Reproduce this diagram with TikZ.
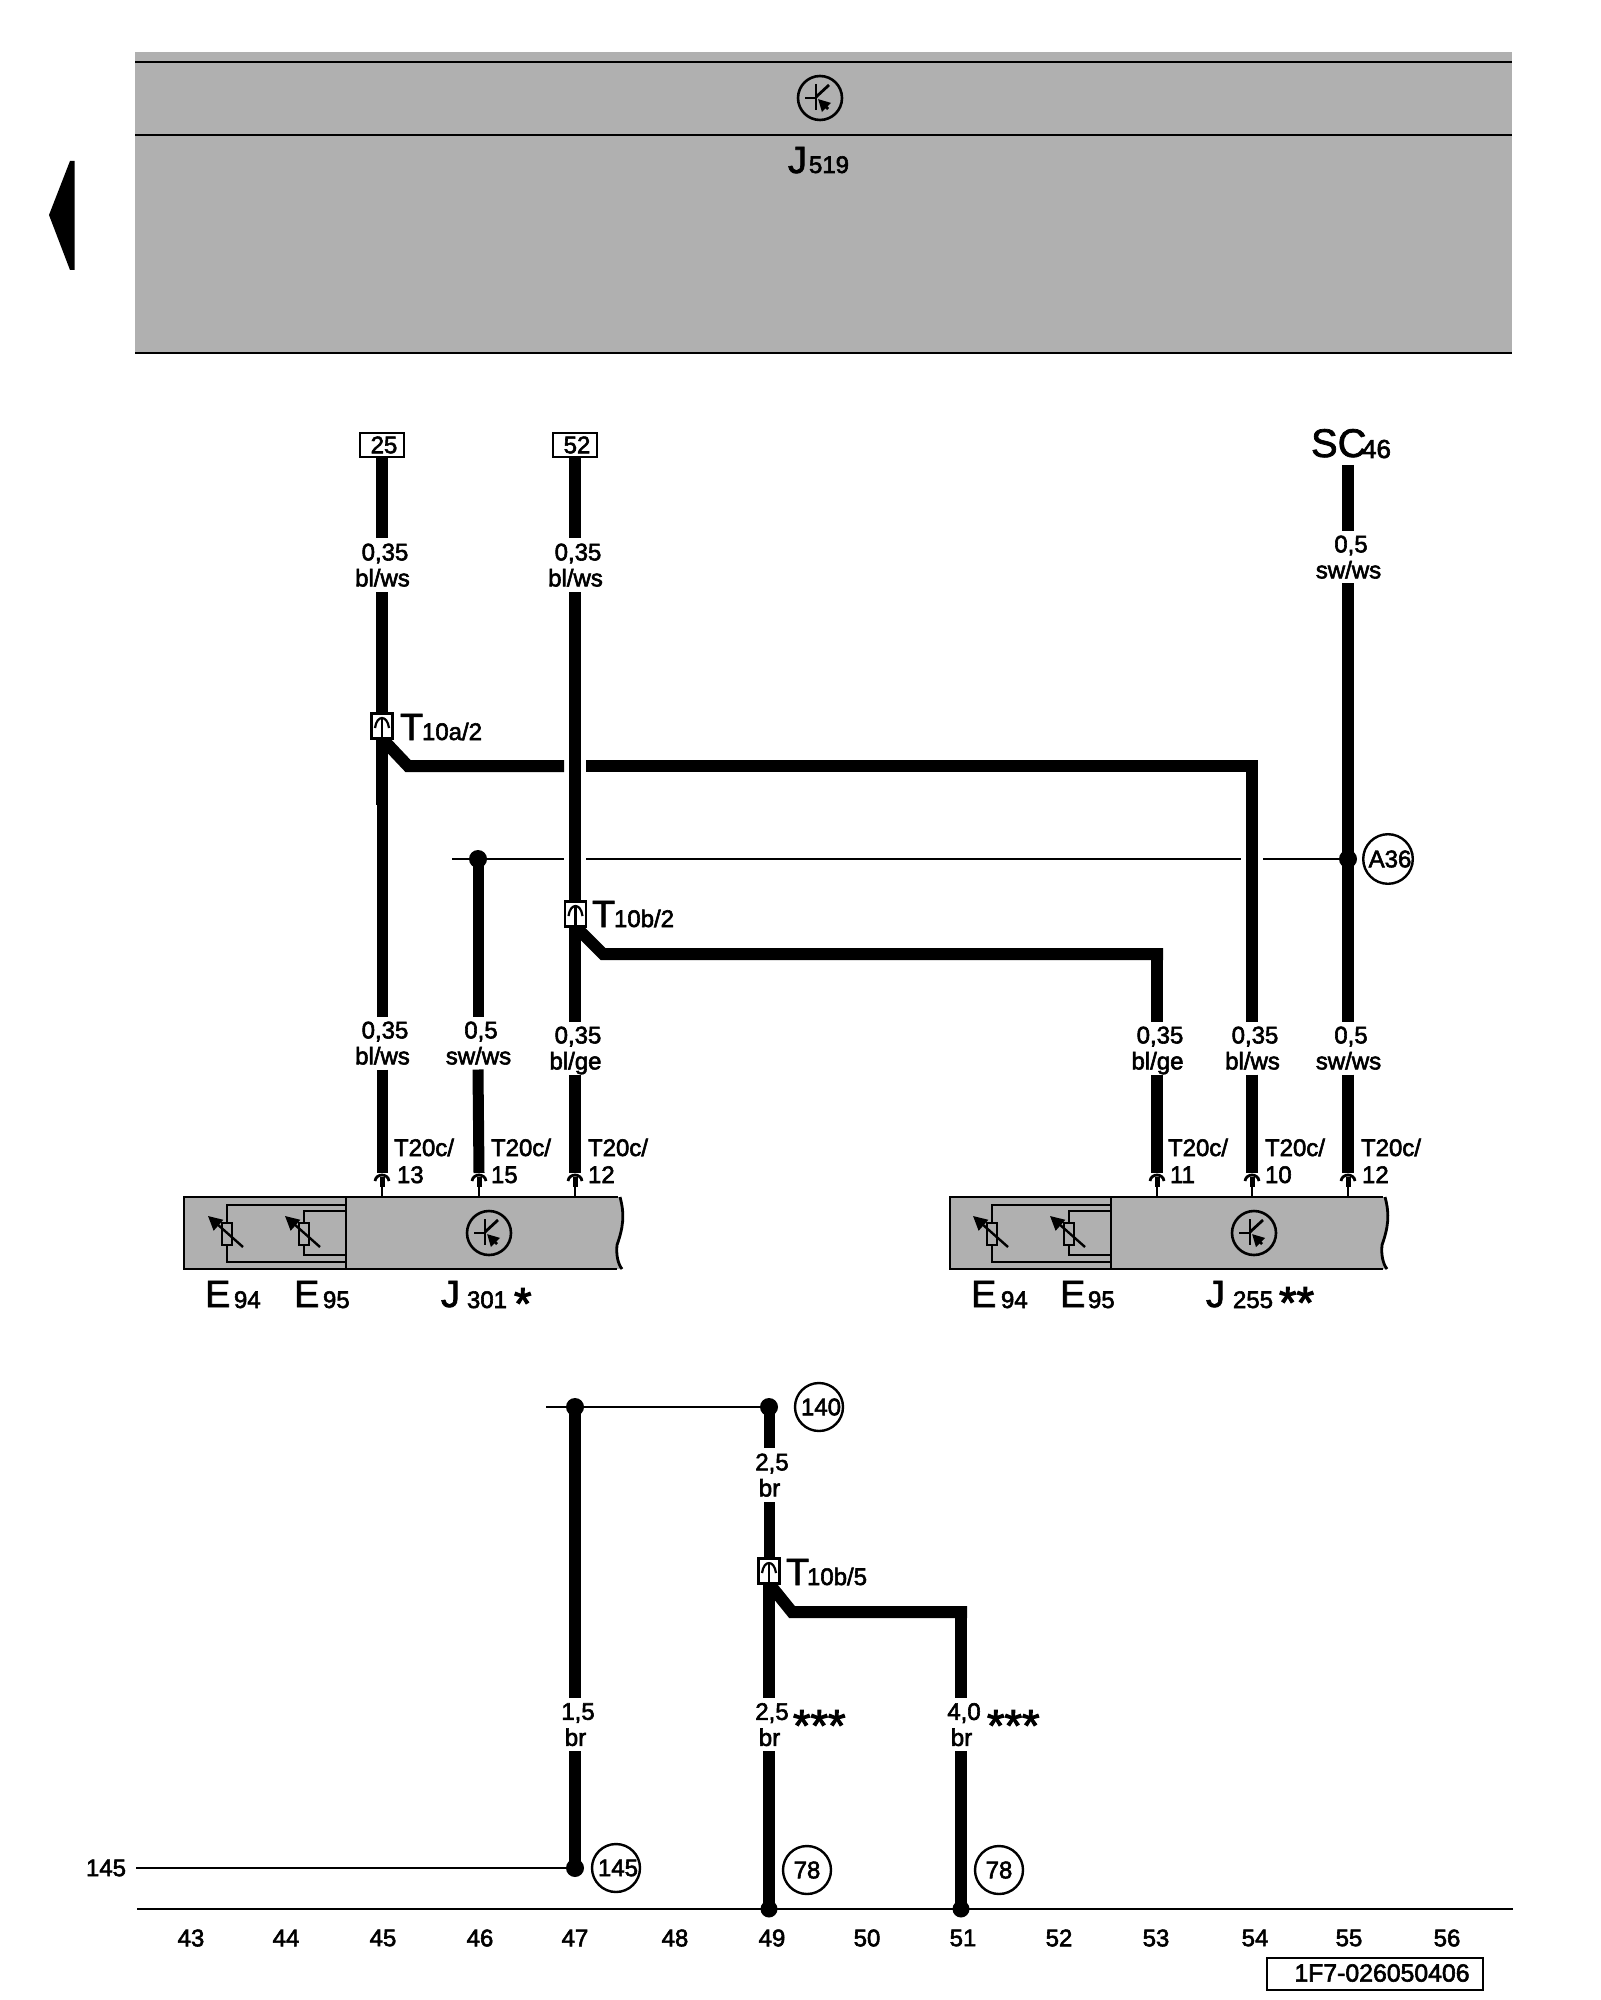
\documentclass[tikz,border=0pt]{standalone}
\usepackage{fontspec}
\setmainfont{Liberation Sans}
\newfontfamily\semib[FakeBold=2.4]{Liberation Sans}
\newfontfamily\bigf[FakeBold=1.8]{Liberation Sans}
\usetikzlibrary{arrows.meta}
\definecolor{panel}{HTML}{B0B0B0}
\tikzset{
  wire/.style={line width=6pt,line cap=butt,line join=miter},
  wirem/.style={line width=5.5pt,line cap=butt,line join=miter},
  wirel/.style={line width=6.4pt,line cap=butt,line join=miter},
  hair/.style={line width=1.3pt,line cap=butt},
  outl/.style={line width=1.4pt,line join=miter},
  small/.style={font=\semib\fontsize{12}{13}\selectfont,inner sep=0pt,outer sep=0pt},
  wlabel/.style={small,align=center,minimum width=10pt},
  big/.style={font=\bigf\fontsize{19}{19}\selectfont,inner sep=0pt,outer sep=0pt,anchor=base west},
  subs/.style={small,anchor=base west},
  stars/.style={font=\semib\fontsize{22.5}{22.5}\selectfont,inner sep=0pt,outer sep=0pt,anchor=base west},
  refc/.style={circle,draw,line width=1.2pt,minimum size=24pt,inner sep=0pt,outer sep=0pt,font=\semib\fontsize{12}{12}\selectfont},
  jdot/.style={circle,fill=black,minimum size=9pt,inner sep=0pt,outer sep=0pt},
  conn/.style={rectangle,draw,fill=white,line width=1.1pt,minimum width=10.5pt,minimum height=12.5pt,inner sep=0pt,outer sep=0pt},
  tagbox/.style={rectangle,draw,line width=1.1pt,minimum width=22pt,minimum height=12pt,inner sep=0pt,outer sep=0pt,font=\semib\fontsize{12}{12}\selectfont},
  transistor/.pic={
    \draw[line width=1.3pt] (0,0) circle (22);
    \draw[line width=1.4pt] (-4,-14) -- (-4,12);
    \draw[line width=1.4pt] (-15,0) -- (-4,0);
    \draw[line width=1.4pt] (-4,-1) -- (9,-13);
    \draw[line width=1.4pt,-{Triangle[length=6pt,width=6pt]}] (8,11) -- (-2,1);
  },
  varres/.pic={
    \draw[line width=1.1pt,fill=panel] (-5,-11) rectangle (5,11);
    \draw[line width=1.2pt,-{Triangle[length=7pt,width=7pt]}] (16,13) -- (-19,-18);
  },
  symb/.pic={
    \draw[line width=1.1pt,fill=none] (-7,2) .. controls (-6,-5) and (-3,-8) .. (0,-8) .. controls (3,-8) and (6,-5) .. (7,2);
    \draw[line width=1.4pt] (0,-8) -- (0,11);
  }
}
\newcommand{\pinend}[2]{%
  \coordinate (#2) at (#1,1173);
  \draw[line width=1.4pt] (#1-7,1181) .. controls (#1-6,1173) and (#1+6,1173) .. (#1+7,1181);
  \fill (#1-2.5,1177) rectangle (#1+2.5,1187);
  \draw[hair] (#1,1187) -- (#1,1197);
}
\newcommand{\lowd}[1]{\raisebox{0pt}[\height][0pt]{#1}}
\newcommand{\wl}[2]{\hspace*{3pt}#1\\\hspace*{0.5pt}\lowd{#2}}
\begin{document}
\begin{tikzpicture}[x=0.5pt,y=-0.5pt]
\useasboundingbox (0,0) rectangle (1600,2000);
% back arrow
\fill (74.6,161) -- (70,161) -- (49,215) -- (70,270) -- (74.6,270) -- cycle;
% top panel
\node[fill=panel,minimum width=688.5pt,minimum height=150.5pt,inner sep=0pt,outer sep=0pt] (J519box) at (823.5,202.5) {};
\coordinate (bandTL) at (135,62); \coordinate (bandTR) at (1512,62);
\coordinate (bandML) at (135,135); \coordinate (bandMR) at (1512,135);
\coordinate (bandBL) at (135,353); \coordinate (bandBR) at (1512,353);
\draw[outl] (bandTL) -- (bandTR);
\draw[outl] (bandML) -- (bandMR);
\draw[outl] (bandBL) -- (bandBR);
\pic at (820,98) {transistor};
\node[big] (J519a) at (788,173) {J};
\node[subs] (J519b) at (809,173) {519};
% left control unit
\fill[panel] (184,1197) -- (620,1197) .. controls (625,1215) and (623,1228) .. (617,1245) .. controls (616,1255) and (618,1264) .. (622,1269) -- (184,1269) -- cycle;
\draw[outl] (618,1197) -- (184,1197) -- (184,1269) -- (617,1269);
\draw[outl] (346,1197) -- (346,1269);
\draw[line width=1.4pt] (620,1197) .. controls (625,1215) and (623,1228) .. (617,1245) .. controls (616,1255) and (618,1264) .. (622,1269);
\draw[line width=1.1pt] (346,1205) -- (227,1205) -- (227,1262) -- (346,1262);
\draw[line width=1.1pt] (346,1211) -- (304,1211) -- (304,1255) -- (346,1255);
\pic at (227,1234) {varres};
\pic at (304,1234) {varres};
\pic at (489,1233) {transistor};
\node[big] (e94a) at (205,1307) {E}; \node[subs] (e94b) at (234,1308) {94};
\node[big] (e95a) at (294,1307) {E}; \node[subs] (e95b) at (323,1308) {95};
\node[big] (j301a) at (441,1307) {J}; \node[subs] (j301b) at (467,1308) {301};
\node[stars] (j301s) at (514,1319) {*};
% right control unit
\fill[panel] (950,1197) -- (1385,1197) .. controls (1390,1215) and (1388,1228) .. (1382,1245) .. controls (1381,1255) and (1383,1264) .. (1387,1269) -- (950,1269) -- cycle;
\draw[outl] (1383,1197) -- (950,1197) -- (950,1269) -- (1383,1269);
\draw[outl] (1111,1197) -- (1111,1269);
\draw[line width=1.4pt] (1385,1197) .. controls (1390,1215) and (1388,1228) .. (1382,1245) .. controls (1381,1255) and (1383,1264) .. (1387,1269);
\draw[line width=1.1pt] (1111,1205) -- (992,1205) -- (992,1262) -- (1111,1262);
\draw[line width=1.1pt] (1111,1211) -- (1069,1211) -- (1069,1255) -- (1111,1255);
\pic at (992,1234) {varres};
\pic at (1069,1234) {varres};
\pic at (1254,1233) {transistor};
\node[big] (e94c) at (971,1307) {E}; \node[subs] (e94d) at (1001,1308) {94};
\node[big] (e95c) at (1060,1307) {E}; \node[subs] (e95d) at (1088,1308) {95};
\node[big] (j255a) at (1206,1307) {J}; \node[subs] (j255b) at (1233,1308) {255};
\node[stars] (j255s) at (1279,1318) {**};
% pins
\pinend{382}{p1}\pinend{479}{p2}\pinend{575}{p3}\pinend{1157}{p4}\pinend{1252}{p5}\pinend{1348}{p6}
% tag boxes and terminals
\node[tagbox] (t25) at (382,445) {\hspace*{2pt}25};
\node[tagbox] (t52) at (575,445) {\hspace*{2pt}52};
\node[big,font=\bigf\fontsize{20}{20}\selectfont] (sc) at (1311,457) {SC};
\node[subs,font=\semib\fontsize{13}{13}\selectfont] (sc46) at (1362,458) {46};
\coordinate (scw) at (1348,465);
% wire labels
\node[wlabel,minimum height=27pt] (a1) at (382,565) {\wl{0,35}{bl/ws}};
\node[wlabel,minimum height=27pt] (a2) at (575,565) {\wl{0,35}{bl/ws}};
\node[wlabel,minimum height=26pt] (a3) at (1348,557) {\wl{0,5}{sw/ws}};
\node[wlabel,minimum height=26.5pt] (b1) at (382,1043) {\wl{0,35}{bl/ws}};
\node[wlabel,minimum height=26.5pt] (b2) at (478,1043) {\wl{0,5}{sw/ws}};
\node[wlabel,minimum height=26.5pt] (b3) at (575,1048) {\wl{0,35}{bl/ge}};
\node[wlabel,minimum height=26.5pt] (b4) at (1157,1048) {\wl{0,35}{bl/ge}};
\node[wlabel,minimum height=26.5pt] (b5) at (1252,1048) {\wl{0,35}{bl/ws}};
\node[wlabel,minimum height=26.5pt] (b6) at (1348,1048) {\wl{0,5}{sw/ws}};
% connectors T10
\node[conn] (c1) at (382,726) {};
\node[conn] (c2) at (575.5,914) {};
\node[jdot] (d1) at (478,859) {};
\node[jdot] (d2) at (1348,859) {};
\coordinate (g1) at (564,766); \coordinate (g2) at (586,766); \coordinate (k1) at (408,766); \coordinate (k2) at (1258,766);
\coordinate (k3) at (603,954); \coordinate (k4) at (1163.2,954);
\coordinate (k2d) at (1252,760); \coordinate (k4d) at (1157,948);
\coordinate (h0) at (452,859); \coordinate (h1) at (564,859); \coordinate (h2) at (586,859); \coordinate (h3) at (1241,859); \coordinate (h4) at (1263,859);
\coordinate (j1) at (382,805);
\coordinate (w2b) at (575,930);
% wires
\draw[wire] (t25.south) -- (a1.north);
\draw[wire] (a1.south) -- (c1.north);
\draw[wire] (c1.south) -- (j1);
\draw[wirem] (j1) -- (b1.north);
\draw[wirem] (b1.south) -- (p1);
\draw[wire] (c1.south) -- (k1) -- (g1);
\draw[wire] (g2) -- (k2);
\draw[wire] (k2d) -- (b5.north);
\draw[wire] (b5.south) -- (p5);
\draw[wire] (t52.south) -- (a2.north);
\draw[wire] (a2.south) -- (w2b);
\draw[wire] (w2b) -- (b3.north);
\draw[wire] (b3.south) -- (p3);
\draw[wire] (c2.south) -- (k3) -- (k4);
\draw[wire,line width=6.2pt] (k4d) -- (b4.north);
\draw[wire,line width=6.2pt] (b4.south) -- (p4);
\draw[wirem] (d1.center) -- (b2.north);
\draw[wirem] (b2.south) -- (p2);
\draw[wirel] (scw) -- (a3.north);
\draw[wirel] (a3.south) -- (b6.north);
\draw[wirel] (b6.south) -- (p6);
\draw[hair] (h0) -- (h1);
\draw[hair] (h2) -- (h3);
\draw[hair] (h4) -- (d2);
\node[conn] at (c1) {};
\node[conn] at (c2) {};
\pic at (382,726) {symb};
\pic at (575.5,914) {symb};
\node[big] (t1a) at (400,740) {T}; \node[subs] (t1b) at (422,740) {10a/2};
\node[big] (t2a) at (592,927) {T}; \node[subs] (t2b) at (614,927) {10b/2};
\node[refc] (A36) at (1388,859) {\hspace*{2pt}A36};
% T20c labels
\node[subs] (l1a) at (394,1156) {T20c/}; \node[subs] (l1b) at (397,1183) {13};
\node[subs] (l2a) at (491,1156) {T20c/}; \node[subs] (l2b) at (491,1183) {15};
\node[subs] (l3a) at (588,1156) {T20c/}; \node[subs] (l3b) at (588,1183) {12};
\node[subs] (l4a) at (1168,1156) {T20c/}; \node[subs] (l4b) at (1170,1183) {11};
\node[subs] (l5a) at (1265,1156) {T20c/}; \node[subs] (l5b) at (1265,1183) {10};
\node[subs] (l6a) at (1361,1156) {T20c/}; \node[subs] (l6b) at (1362,1183) {12};
% bottom section
\coordinate (axL) at (137,1909); \coordinate (axR) at (1513,1909);
\draw[line width=1.4pt] (axL) -- (axR);
\coordinate (s0) at (546,1407);
\node[jdot] (s1) at (575,1407) {};
\node[jdot] (s2) at (769,1407) {};
\node[jdot] (s3) at (575,1868) {};
\node[jdot,minimum size=8.5pt] (s4) at (769,1909) {};
\node[jdot,minimum size=8.5pt] (s5) at (961,1909) {};
\draw[hair] (s0) -- (s2);
\node[small] (n145) at (106,1868) {145};
\coordinate (n145e) at (136,1868);
\draw[hair] (n145e) -- (s3);
\node[wlabel,minimum height=26.5pt] (v1) at (575,1724.5) {\wl{1,5}{br}};
\node[wlabel,minimum height=27pt] (v2) at (769,1475) {\wl{2,5}{br}};
\node[wlabel,minimum height=26.5pt] (v3) at (769,1724.5) {\wl{2,5}{br}};
\node[wlabel,minimum height=26.5pt] (v4) at (961,1724.5) {\wl{4,0}{br}};
\node[conn] (c3) at (769,1571) {};
\coordinate (k5) at (792,1612); \coordinate (k6) at (967,1612); \coordinate (k6d) at (961,1606);
\draw[wire] (s1.center) -- (v1.north);
\draw[wire] (v1.south) -- (s3.center);
\draw[wirem] (s2.center) -- (v2.north);
\draw[wirem] (v2.south) -- (c3.north);
\draw[wire] (c3.south) -- (v3.north);
\draw[wire] (v3.south) -- (s4.center);
\draw[wire] (c3.south) -- (k5) -- (k6);
\draw[wire] (k6d) -- (v4.north);
\draw[wire] (v4.south) -- (s5.center);
\node[conn] at (c3) {};
\pic at (769,1571) {symb};
\node[big] (t3a) at (786,1585) {T}; \node[subs] (t3b) at (807,1585) {10b/5};
\node[stars] (st1) at (793,1741) {***};
\node[stars] (st2) at (987,1741) {***};
\node[refc] (r140) at (819,1407) {\hspace*{2pt}140};
\node[refc] (r145) at (616,1868) {\hspace*{2pt}145};
\node[refc] (r78a) at (807,1870) {78};
\node[refc] (r78b) at (999,1870) {78};
% axis numbers
\foreach \n/\xx in {43/191,44/286,45/383,46/480,47/575,48/675,49/772,50/867,51/963,52/1059,53/1156,54/1255,55/1349,56/1447}
  \node[small] (ax\n) at (\xx,1938) {\n};
\node[rectangle,draw,line width=1.1pt,minimum width=108pt,minimum height=16pt,inner sep=0pt,outer sep=0pt] (code) at (1375,1974) {};
\node[small,font=\semib\fontsize{12.4}{12.4}\selectfont] (codet) at (1382,1973) {1F7-026050406};
\end{tikzpicture}
\end{document}
